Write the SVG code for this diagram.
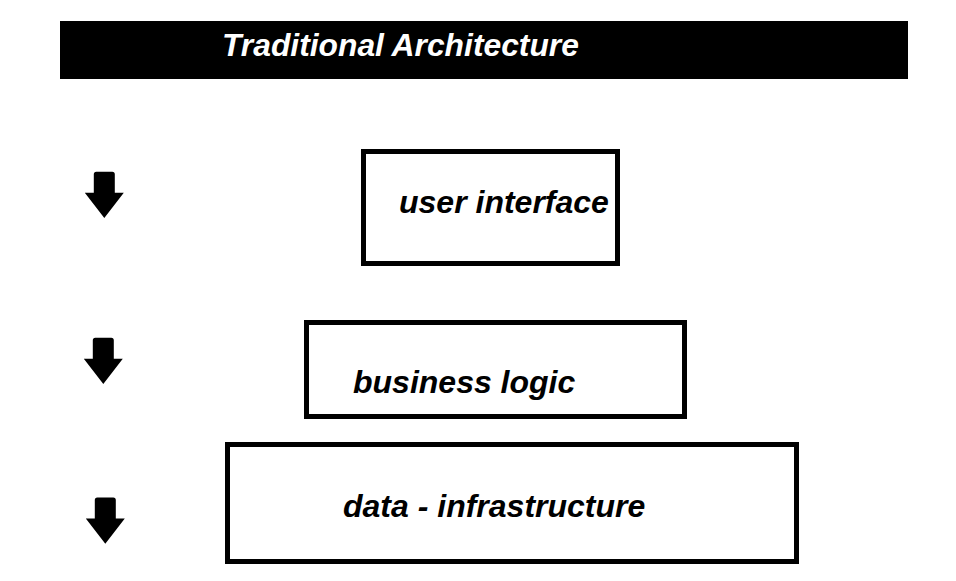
<svg xmlns="http://www.w3.org/2000/svg" width="956" height="581" viewBox="0 0 956 581">
  <style>
    .box { fill: #ffffff; stroke: #000000; stroke-width: 5; }
    .lbl { font-family: "Liberation Sans", Arial, sans-serif; font-weight: bold; font-style: italic; font-size: 32px; fill: #000000; }
    .title { font-family: "Liberation Sans", Arial, sans-serif; font-weight: bold; font-style: italic; font-size: 31.8px; fill: #ffffff; }
    .arrow { fill: #000000; }
  </style>
  <defs>
    <path id="downArrow" d="M -10.5 2.5 Q -10.5 0 -8 0 L 8 0 Q 10.5 0 10.5 2.5 L 10.5 21 L 19.5 21 L 0 46.3 L -19.5 21 L -10.5 21 Z"/>
  </defs>
  <rect width="956" height="581" fill="#ffffff"/>

  <g id="title-bar">
    <rect x="60" y="21" width="848" height="58" fill="#000000"/>
    <text class="title" x="222" y="56">Traditional Architecture</text>
  </g>

  <g id="user-interface">
    <rect class="box" x="363.5" y="151.5" width="254" height="112"/>
    <text class="lbl" x="399" y="212.5">user interface</text>
  </g>

  <g id="business-logic">
    <rect class="box" x="306.5" y="322.5" width="378" height="94"/>
    <text class="lbl" x="353" y="392.5">business logic</text>
  </g>

  <g id="data-infrastructure">
    <rect class="box" x="227.5" y="444.5" width="569" height="117"/>
    <text class="lbl" x="343" y="516.5">data - infrastructure</text>
  </g>

  <g id="connectors">
    <use href="#downArrow" class="arrow" transform="translate(104.3 171.7)"/>
    <use href="#downArrow" class="arrow" transform="translate(103.3 337.7)"/>
    <use href="#downArrow" class="arrow" transform="translate(105.3 497.5)"/>
  </g>
</svg>
